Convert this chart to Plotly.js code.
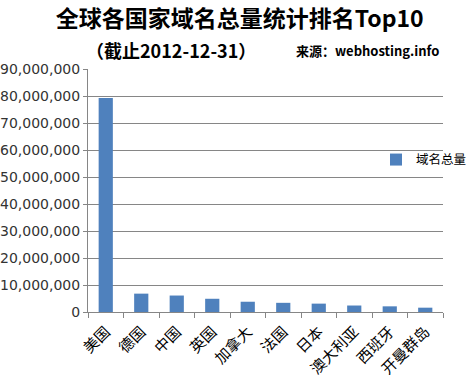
<!DOCTYPE html>
<html>
<head>
<meta charset="utf-8">
<script src="https://cdn.plot.ly/plotly-3.0.1.min.js"></script>
<style>html,body{margin:0;padding:0;background:#fff;}#chart{width:470px;height:379px;}</style>
</head>
<body>
<div id="chart"></div>
<script>
var countries = ["美国","德国","中国","英国","加拿大","法国","日本","澳大利亚","西班牙","开曼群岛"];
var domainTotals = [79300000, 6800000, 6100000, 4900000, 3800000, 3400000, 3100000, 2400000, 2100000, 1600000];
var seriesName = "域名总量";
var yTickValues = [0,10000000,20000000,30000000,40000000,50000000,60000000,70000000,80000000,90000000];

var trace = {
  type: "bar",
  x: countries,
  y: domainTotals,
  name: seriesName,
  marker: {color: "#4F81BD"},
  showlegend: true
};

var layout = {
  width: 470, height: 379,
  margin: {l: 88, r: 27, t: 69, b: 67, autoexpand: false},
  paper_bgcolor: "#fff", plot_bgcolor: "#fff",
  bargap: 0.6,
  title: {
    text: "<b>全球各国家域名总量统计排名Top10</b>",
    font: {family: "Noto Sans CJK SC, sans-serif", size: 23, color: "#000"},
    x: 0.51, xanchor: "center", xref: "container",
    y: 0.95, yanchor: "middle", yref: "container"
  },
  annotations: [
    {text: "<b>（截止2012-12-31）</b>", xref: "paper", yref: "paper",
     xanchor: "left", yanchor: "middle", x: -0.01, y: 1.08, showarrow: false,
     font: {family: "Noto Sans CJK SC, sans-serif", size: 18, color: "#000"}},
    {text: "<b>来源：webhosting.info</b>", xref: "paper", yref: "paper", x: 0.58, y: 1.078,
     xanchor: "left", yanchor: "middle", showarrow: false,
     font: {family: "Noto Sans CJK SC, Liberation Sans, sans-serif", size: 13, color: "#000"}}
  ],
  xaxis: {
    type: "category",
    tickson: "boundaries",
    ticks: "outside", ticklen: 5, tickcolor: "#868686",
    showline: true, linecolor: "#868686", linewidth: 1,
    tickangle: -45,
    ticklabelstandoff: 4,
    tickfont: {family: "Noto Sans CJK SC, sans-serif", size: 15, color: "#000"},
    showgrid: false
  },
  yaxis: {
    range: [0, 90000000],
    tickvals: yTickValues,
    tickformat: ",d",
    ticks: "outside", ticklen: 4, tickcolor: "#868686",
    showline: true, linecolor: "#868686", linewidth: 1,
    showgrid: true, gridcolor: "#868686", gridwidth: 1,
    zeroline: false,
    tickfont: {family: "DejaVu Sans, sans-serif", size: 14, color: "#333"}
  },
  legend: {
    xref: "container", yref: "container",
    x: 0.80, xanchor: "left", y: 0.578, yanchor: "middle",
    bgcolor: "rgba(0,0,0,0)",
    font: {family: "Noto Sans CJK SC, sans-serif", size: 12.5, color: "#000"},
    itemwidth: 30
  }
};

Plotly.newPlot("chart", [trace], layout, {displayModeBar: false, staticPlot: true});
</script>
</body>
</html>
